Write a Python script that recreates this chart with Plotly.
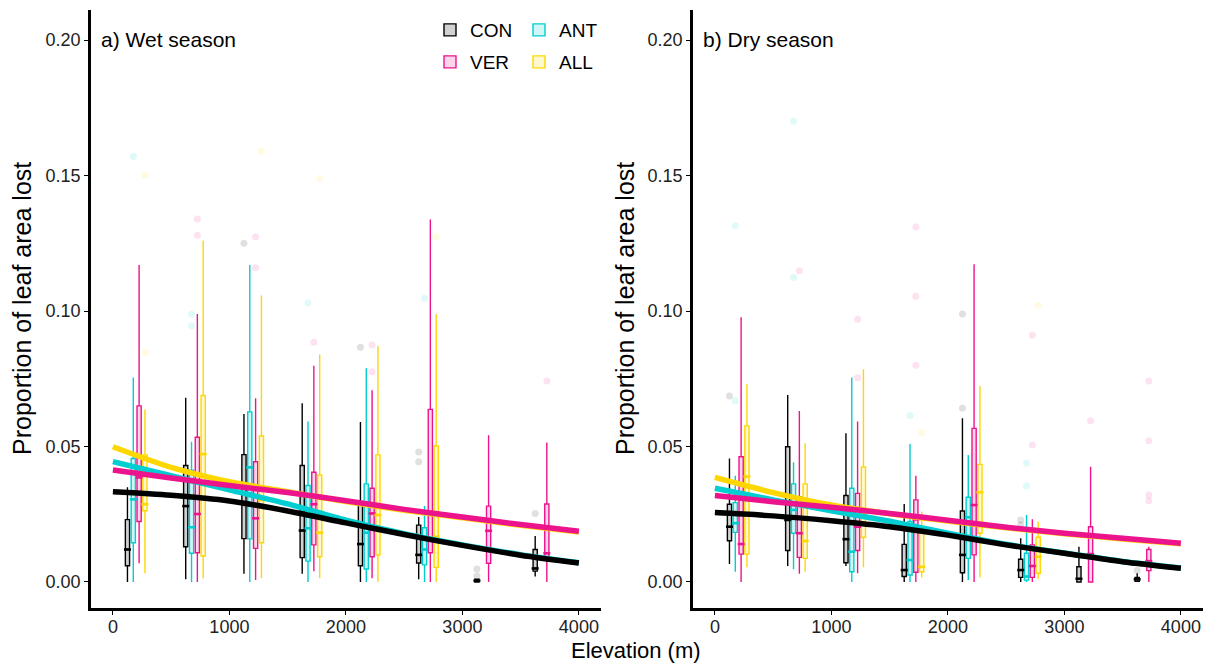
import plotly.graph_objects as go

# ---------------- data ----------------
CATEGORIES = ["CON", "ANT", "VER", "ALL"]
X_TICKS = [0, 1000, 2000, 3000, 4000]
Y_TICKS = [0.00, 0.05, 0.10, 0.15, 0.20]

# rows: (elevation, lower whisker, q1, median, q3, upper whisker)
wet_con = [(200, 0.000, 0.006, 0.012, 0.023, 0.035), (700, 0.001, 0.013, 0.028, 0.043, 0.068),
           (1200, 0.003, 0.016, 0.033, 0.047, 0.062), (1700, 0.003, 0.009, 0.019, 0.043, 0.066),
           (2200, 0.000, 0.006, 0.014, 0.029, 0.059), (2700, 0.001, 0.007, 0.010, 0.021, 0.024),
           (3200, 0.000, 0.000, 0.0005, 0.001, 0.001), (3700, 0.002, 0.004, 0.005, 0.012, 0.017)]
wet_ant = [(200, 0.000, 0.0145, 0.0305, 0.0456, 0.0755), (700, 0.000, 0.0106, 0.0202, 0.0413, 0.0518),
           (1200, 0.000, 0.0159, 0.0423, 0.0628, 0.117), (1700, 0.000, 0.0077, 0.0198, 0.0356, 0.0592),
           (2200, 0.000, 0.0048, 0.0182, 0.0362, 0.0789), (2700, 0.000, 0.0063, 0.012, 0.020, 0.028)]
wet_ver = [(200, 0.0069, 0.0223, 0.0386, 0.065, 0.117), (700, 0.000, 0.0108, 0.0251, 0.0534, 0.0989),
           (1200, 0.0007, 0.0124, 0.0235, 0.0444, 0.0678), (1700, 0.004, 0.0137, 0.0287, 0.0405, 0.0798),
           (2200, 0.0014, 0.0093, 0.0253, 0.0346, 0.0708), (2700, 0.000, 0.0108, 0.0253, 0.0637, 0.1338),
           (3200, 0.000, 0.0069, 0.0189, 0.028, 0.0542), (3700, 0.000, 0.0093, 0.0106, 0.0288, 0.0515)]
wet_all = [(200, 0.0032, 0.0263, 0.0287, 0.0469, 0.0637), (700, 0.0014, 0.0096, 0.0472, 0.0688, 0.126),
           (1200, 0.0014, 0.0145, 0.0303, 0.0539, 0.1057), (1700, 0.0014, 0.0093, 0.0182, 0.0395, 0.084),
           (2200, 0.000, 0.010, 0.0247, 0.0469, 0.0872), (2700, 0.000, 0.0054, 0.0167, 0.0502, 0.0989)]

dry_con = [(200, 0.0066, 0.0152, 0.0204, 0.0287, 0.0456), (700, 0.0059, 0.0116, 0.0229, 0.0499, 0.069),
           (1200, 0.0059, 0.0071, 0.0158, 0.0319, 0.0549), (1700, 0.000, 0.002, 0.0044, 0.0139, 0.0288),
           (2200, 0.000, 0.0034, 0.010, 0.0262, 0.0604), (2700, 0.000, 0.0017, 0.0044, 0.0084, 0.0161),
           (3200, 0.000, 0.000, 0.0012, 0.0056, 0.013), (3700, 0.000, 0.0003, 0.001, 0.0017, 0.0032)]
dry_ant = [(200, 0.0038, 0.0183, 0.0217, 0.0293, 0.0392), (700, 0.0047, 0.018, 0.0266, 0.0362, 0.0442),
           (1200, 0.000, 0.0038, 0.0112, 0.0346, 0.0755), (1700, 0.000, 0.0026, 0.0081, 0.0223, 0.0509),
           (2200, 0.0007, 0.0087, 0.0239, 0.0313, 0.0469), (2700, 0.000, 0.0007, 0.002, 0.0106, 0.0247)]
dry_ver = [(200, 0.000, 0.0103, 0.014, 0.0462, 0.0977), (700, 0.003, 0.0091, 0.018, 0.0315, 0.0631),
           (1200, 0.0032, 0.0116, 0.0204, 0.0327, 0.0592), (1700, 0.000, 0.0036, 0.0231, 0.0303, 0.0392),
           (2200, 0.000, 0.010, 0.0284, 0.0567, 0.1173), (2700, 0.000, 0.0017, 0.0059, 0.0137, 0.0232),
           (3200, 0.000, 0.000, 0.0103, 0.0204, 0.0425), (3700, 0.000, 0.0042, 0.0077, 0.012, 0.013)]
dry_all = [(200, 0.0054, 0.0103, 0.0389, 0.0576, 0.0731), (700, 0.0038, 0.0087, 0.0151, 0.0362, 0.0512),
           (1200, 0.0054, 0.0165, 0.0253, 0.0425, 0.0785), (1700, 0.0017, 0.0038, 0.0056, 0.0198, 0.026),
           (2200, 0.0017, 0.018, 0.0331, 0.0434, 0.0723), (2700, 0.0012, 0.0032, 0.0093, 0.0165, 0.0223)]

# outliers: (elevation, value)
wet_con_out = [(1200, 0.125), (2200, 0.0866), (2700, 0.048), (2700, 0.0444), (3200, 0.0048), (3200, 0.0022), (3700, 0.0253)]
wet_ant_out = [(200, 0.157), (700, 0.0988), (700, 0.0945), (1700, 0.103), (2700, 0.1047)]
wet_ver_out = [(700, 0.134), (700, 0.128), (1200, 0.1274), (1200, 0.116), (1700, 0.0885), (2200, 0.0875), (2200, 0.0776), (3700, 0.0742)]
wet_all_out = [(200, 0.150), (200, 0.0848), (1200, 0.159), (1700, 0.149), (2700, 0.1274)]
dry_con_out = [(200, 0.0686), (2200, 0.0989), (2200, 0.0641), (2700, 0.0229), (2700, 0.021), (3700, 0.0042)]
dry_ant_out = [(200, 0.1315), (200, 0.0669), (700, 0.170), (700, 0.1124), (1700, 0.0614), (2700, 0.0438), (2700, 0.0355)]
dry_ver_out = [(700, 0.1149), (1200, 0.097), (1200, 0.0754), (1700, 0.131), (1700, 0.1055), (1700, 0.080),
               (2700, 0.0911), (2700, 0.0506), (3200, 0.0595), (3700, 0.0742), (3700, 0.0521), (3700, 0.0321), (3700, 0.030)]
dry_all_out = [(1700, 0.0552), (2700, 0.102)]

# fitted curves, read at these elevations
fit_elev = [0, 500, 1000, 1500, 2000, 2500, 3000, 3500, 4000]
wet_fit_con = [0.0333, 0.0320, 0.0299, 0.0262, 0.0218, 0.0175, 0.0135, 0.0099, 0.0070]
wet_fit_ant = [0.0444, 0.0392, 0.0340, 0.0288, 0.0228, 0.0178, 0.0137, 0.0101, 0.0071]
wet_fit_ver = [0.0413, 0.0384, 0.0356, 0.0330, 0.0300, 0.0268, 0.0240, 0.0212, 0.0187]
wet_fit_all = [0.0499, 0.0423, 0.0370, 0.0333, 0.0297, 0.0265, 0.0237, 0.0209, 0.0184]
dry_fit_con = [0.0256, 0.0244, 0.0226, 0.0204, 0.0173, 0.0137, 0.0106, 0.0075, 0.0051]
dry_fit_ant = [0.0346, 0.0303, 0.0263, 0.0224, 0.0180, 0.0139, 0.0107, 0.0076, 0.0052]
dry_fit_ver = [0.0319, 0.0296, 0.0276, 0.0253, 0.0228, 0.0202, 0.0180, 0.0161, 0.0143]
dry_fit_all = [0.0386, 0.0330, 0.0284, 0.0252, 0.0225, 0.0200, 0.0178, 0.0159, 0.0141]

# ---------------- styling ----------------
FONT = "Liberation Sans, Arial, sans-serif"
COLORS = {"CON": "#000000", "ANT": "#00CED1", "VER": "#EC148C", "ALL": "#FFD700"}
RGB = {"CON": (0, 0, 0), "ANT": (0, 206, 209), "VER": (236, 20, 140), "ALL": (255, 215, 0)}
FILLS = {k: "rgba(%d,%d,%d,0.18)" % v for k, v in RGB.items()}
OUTC = {k: "rgba(%d,%d,%d,0.12)" % v for k, v in RGB.items()}
DODGE = 50.0      # elevation units between dodged boxes
BOX_W = 36.0
W, H = 1212, 664

panels = [
    dict(xa="x", ya="y", show=True,
         boxes={"CON": wet_con, "ANT": wet_ant, "VER": wet_ver, "ALL": wet_all},
         outs={"CON": wet_con_out, "ANT": wet_ant_out, "VER": wet_ver_out, "ALL": wet_all_out},
         fits={"CON": wet_fit_con, "ANT": wet_fit_ant, "VER": wet_fit_ver, "ALL": wet_fit_all}),
    dict(xa="x2", ya="y2", show=False,
         boxes={"CON": dry_con, "ANT": dry_ant, "VER": dry_ver, "ALL": dry_all},
         outs={"CON": dry_con_out, "ANT": dry_ant_out, "VER": dry_ver_out, "ALL": dry_all_out},
         fits={"CON": dry_fit_con, "ANT": dry_fit_ant, "VER": dry_fit_ver, "ALL": dry_fit_all}),
]


def dodge(elev, cat):
    return elev + (CATEGORIES.index(cat) - 1.5) * DODGE


fig = go.Figure()
for p in panels:
    for cat in CATEGORIES:
        rows = p["boxes"][cat]
        xs = [dodge(r[0], cat) for r in rows]
        fig.add_trace(go.Box(
            x=xs,
            lowerfence=[r[1] for r in rows], q1=[r[2] for r in rows], median=[r[3] for r in rows],
            q3=[r[4] for r in rows], upperfence=[r[5] for r in rows],
            orientation="v", width=BOX_W, whiskerwidth=0, boxpoints=False,
            fillcolor=FILLS[cat], line=dict(color=COLORS[cat], width=1.4),
            name=cat, showlegend=p["show"],
            legend="legend" if cat in ("CON", "ANT") else "legend2",
            xaxis=p["xa"], yaxis=p["ya"], hoverinfo="skip"))
        # thicker median bars as in the reference
        fig.add_trace(go.Scatter(
            x=xs, y=[r[3] for r in rows], mode="markers",
            marker=dict(symbol="line-ew", size=5, line=dict(color=COLORS[cat], width=2.6)),
            showlegend=False, xaxis=p["xa"], yaxis=p["ya"], hoverinfo="skip"))
for p in panels:
    for cat in CATEGORIES:
        pts = p["outs"][cat]
        fig.add_trace(go.Scatter(
            x=[dodge(e, cat) for e, _ in pts], y=[v for _, v in pts], mode="markers",
            marker=dict(size=7, color=OUTC[cat], line=dict(width=0)),
            showlegend=False, xaxis=p["xa"], yaxis=p["ya"], hoverinfo="skip"))
for p in panels:
    for cat in ["ALL", "ANT", "VER", "CON"]:
        fig.add_trace(go.Scatter(
            x=fit_elev, y=p["fits"][cat], mode="lines",
            line=dict(color=COLORS[cat], width=5.5, shape="spline", smoothing=0.8),
            showlegend=False, xaxis=p["xa"], yaxis=p["ya"], hoverinfo="skip"))

axis_common = dict(showline=True, linecolor="black", linewidth=2.8, ticks="outside", ticklen=4,
                   tickwidth=1.4, tickcolor="black", showgrid=False, zeroline=False,
                   tickfont=dict(family=FONT, size=18, color="#222222"))
XR = [-188, 4190]
YR = [-0.0096, 0.2111]
ydom = [1 - 608 / H, 1 - 10 / H]
leg_common = dict(orientation="h", x=430 / W, xanchor="left", yanchor="middle",
                  font=dict(family=FONT, size=19, color="black"), entrywidth=44, entrywidthmode="pixels",
                  bgcolor="rgba(0,0,0,0)", tracegroupgap=0)
fig.update_layout(
    width=W, height=H, margin=dict(l=0, r=0, t=0, b=0),
    paper_bgcolor="white", plot_bgcolor="white", boxmode="overlay",
    font=dict(family=FONT, color="black"),
    xaxis=dict(domain=[91 / W, 601 / W], range=XR, tickvals=X_TICKS, anchor="y",
               ticklabelstandoff=-4, **axis_common),
    yaxis=dict(domain=ydom, range=YR, tickvals=Y_TICKS, tickformat=".2f", anchor="x", **axis_common),
    xaxis2=dict(domain=[693 / W, 1203 / W], range=XR, tickvals=X_TICKS, anchor="y2",
                ticklabelstandoff=-4, **axis_common),
    yaxis2=dict(domain=ydom, range=YR, tickvals=Y_TICKS, tickformat=".2f", anchor="x2", **axis_common),
    legend=dict(y=1 - 30 / H, **leg_common),
    legend2=dict(y=1 - 62 / H, **leg_common),
    annotations=[
        dict(text="a) Wet season", x=99 / W, y=1 - 40 / H, xref="paper", yref="paper",
             xanchor="left", yanchor="middle", showarrow=False, font=dict(family=FONT, size=21, color="black")),
        dict(text="b) Dry season", x=701 / W, y=1 - 40 / H, xref="paper", yref="paper",
             xanchor="left", yanchor="middle", showarrow=False, font=dict(family=FONT, size=21, color="black")),
        dict(text="Proportion of leaf area lost", x=22 / W, y=1 - 309 / H, xref="paper", yref="paper",
             textangle=-90, xanchor="center", yanchor="middle", showarrow=False,
             font=dict(family=FONT, size=25, color="black")),
        dict(text="Proportion of leaf area lost", x=625 / W, y=1 - 309 / H, xref="paper", yref="paper",
             textangle=-90, xanchor="center", yanchor="middle", showarrow=False,
             font=dict(family=FONT, size=25, color="black")),
        dict(text="Elevation (m)", x=636 / W, y=1 - 650 / H, xref="paper", yref="paper",
             xanchor="center", yanchor="middle", showarrow=False, font=dict(family=FONT, size=22, color="black")),
    ],
)
fig.write_html("out.html", config={"displayModeBar": False})
